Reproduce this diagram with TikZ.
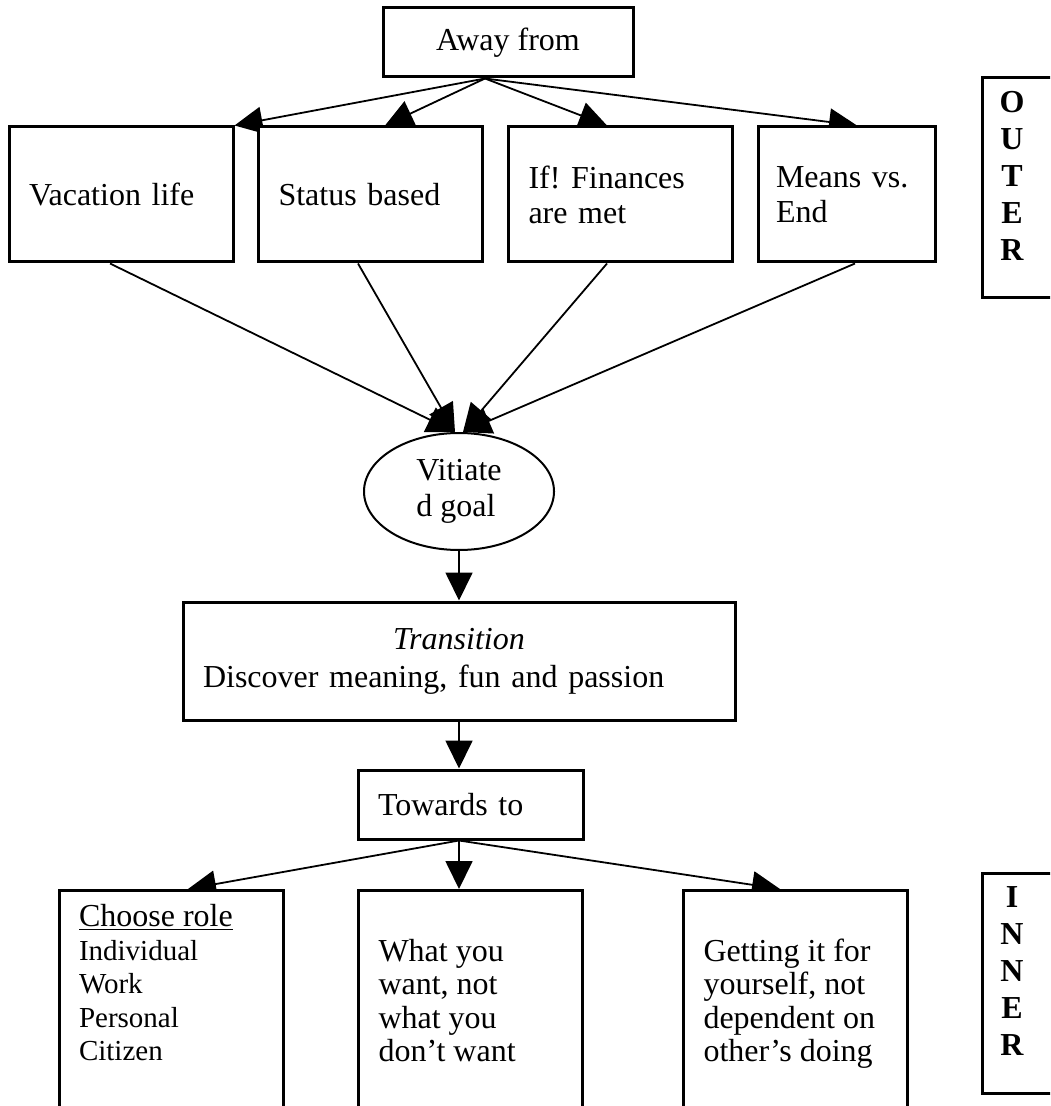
\documentclass[tikz,border=0pt]{standalone}
\usepackage{fontspec}
\setmainfont{Liberation Serif}
\usetikzlibrary{shapes.geometric,arrows.meta,backgrounds}
\newcommand{\sidelet}[1]{\makebox[20pt]{#1}}

\begin{document}
\frenchspacing
\begin{tikzpicture}[x=0.5pt,y=-0.5pt,
  box/.style={draw, fill=white, line width=1.5pt, inner xsep=10pt, inner ysep=0pt, font=\fontsize{16}{17.5}\selectfont},
  toprow/.style={box, minimum height=67.5pt, align=left},
  lowbox/.style={box, anchor=north, inner ysep=7pt, font=\fontsize{16}{16.75}\selectfont},
  sidebox/.style={box, anchor=north, inner xsep=5pt, inner ysep=6.75pt, font=\fontsize{16}{18.5}\selectfont\bfseries},
  arr/.style={-{Triangle[length=14pt,width=13.5pt]}, line width=0.9pt}]
\useasboundingbox (0,0) rectangle (1050,1106);
\clip (0,0) rectangle (1050,1106);

\node[box, minimum width=125pt, minimum height=34.5pt] (away) at (508,42.5) {Away from};
\node[toprow, text width=92pt] (vac) at (121,194.5) {Vacation life};
\node[toprow, text width=92pt] (status) at (370.5,194.5) {Status based};
\node[toprow, text width=92pt] (fin) at (620.5,194.5) {If! Finances\\are met};
\node[toprow, text width=70.5pt, inner xsep=9pt] (means) at (846.5,194.5) {Means vs.\\End};
\node[sidebox] (outer) at (1052,76) {\parbox[t][96.5pt][t]{60pt}{\sidelet{O}\\\sidelet{U}\\\sidelet{T}\\\sidelet{E}\\\sidelet{R}}};

\node[draw, ellipse, fill=white, line width=1pt, minimum width=95pt, minimum height=58.5pt, inner sep=0pt, align=left, font=\fontsize{16}{18}\selectfont] (goal) at (459,491.5) {Vitiate\\d goal};

\node[box, text width=256pt, minimum height=59pt, align=left, font=\fontsize{16}{19}\selectfont] (trans) at (459,661) {\makebox[256pt]{\itshape Transition}\\Discover meaning, fun and passion};
\node[box, text width=92.5pt, minimum height=34.5pt, align=left] (towards) at (470.5,804.5) {Towards to};

\node[lowbox] (role) at (171,889) {\parbox[t][100pt][t]{92pt}{\underline{Choose role}\\{\fontsize{14.5}{16.75}\selectfont Individual\\Work\\Personal\\Citizen}}};
\node[lowbox] (want) at (470.5,889) {\parbox[t][100pt][t]{92pt}{\strut\\What you\\want, not\\what you\\don’t want}};
\node[lowbox] (self) at (795.5,889) {\parbox[t][100pt][t]{92pt}{\strut\\Getting it for\\yourself, not\\dependent on\\other’s doing}};
\node[sidebox] (inner) at (1052,872) {\parbox[t][96.5pt][t]{60pt}{\sidelet{I}\\\sidelet{N}\\\sidelet{N}\\\sidelet{E}\\\sidelet{R}}};

\begin{scope}[on background layer]
\draw[arr] ([xshift=-11.5pt]away.south) -- (vac.north east);
\draw[arr] ([xshift=-11.5pt]away.south) -- ([xshift=7.25pt]status.north);
\draw[arr] ([xshift=-11.5pt]away.south) -- ([xshift=-6.75pt]fin.north);
\draw[arr] ([xshift=-11.5pt]away.south) -- ([xshift=5.25pt]means.north);
\draw[arr] ([xshift=-5.5pt]vac.south) -- ([xshift=-2pt]goal.north);
\draw[arr] ([xshift=-6.25pt]status.south) -- ([xshift=-2pt]goal.north);
\draw[arr] ([xshift=-6.75pt]fin.south) -- ([xshift=2pt]goal.north);
\draw[arr] ([xshift=4.25pt]means.south) -- ([xshift=2pt]goal.north);
\draw[arr] (goal.south) -- (trans.north);
\draw[arr] (trans.south) -- ([xshift=-5.75pt]towards.north);
\draw[arr] ([xshift=-5.75pt]towards.south) -- ([xshift=8.5pt]role.north);
\draw[arr] ([xshift=-5.75pt]towards.south) -- ([xshift=-5.75pt]want.north);
\draw[arr] ([xshift=-5.75pt]towards.south) -- ([xshift=-7.75pt]self.north);
\end{scope}
\end{tikzpicture}
\end{document}
